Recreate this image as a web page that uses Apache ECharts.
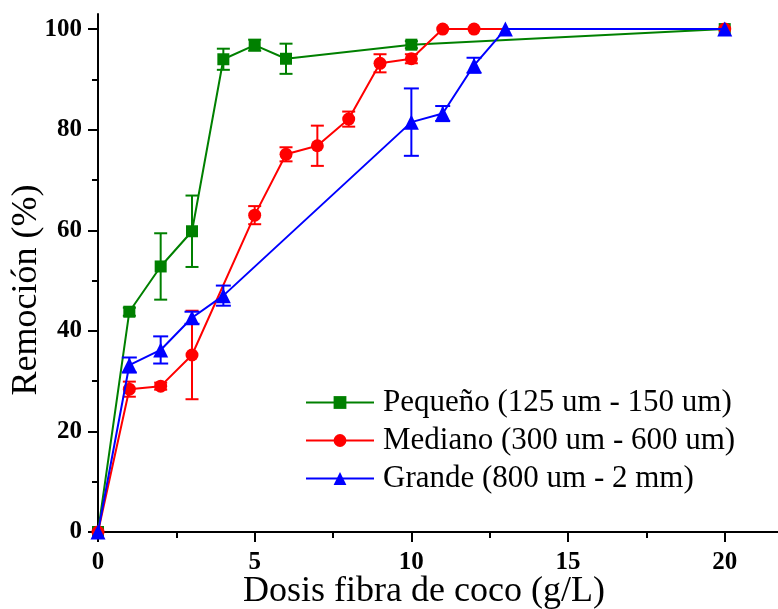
<!DOCTYPE html>
<html>
<head>
<meta charset="utf-8">
<title>Remoción vs dosis de fibra de coco</title>
<script src="https://cdn.jsdelivr.net/npm/echarts@6/dist/echarts.min.js"></script>
<style>
  html, body { margin: 0; padding: 0; background: #ffffff; }
  #chart { width: 778px; height: 609px; }
</style>
</head>
<body>
<div id="chart"></div>
<script>
// Dose (g/L), removal (%) and standard deviation for each particle size
const doseSmall = [0, 1, 2, 3, 4, 5, 6, 10, 20];
const removalSmall = [0, 43.8, 52.8, 59.8, 94.0, 96.8, 94.1, 96.9, 100];
const errSmall = [0, 0.8, 6.6, 7.1, 2.1, 1.1, 3.0, 0.7, 0];

const doseMedium = [0, 1, 2, 3, 5, 6, 7, 8, 9, 10, 11, 12, 20];
const removalMedium = [0, 28.4, 29.0, 35.2, 63.0, 75.1, 76.8, 82.1, 93.2, 94.1, 100, 100, 100];
const errMedium = [0, 1.5, 0.7, 8.8, 1.8, 1.4, 4.0, 1.5, 1.8, 0.9, 0, 0, 0];

const doseLarge = [0, 1, 2, 3, 4, 10, 11, 12, 13, 20];
const removalLarge = [0, 33.2, 36.2, 42.6, 47.0, 81.5, 83.2, 92.8, 100, 100];
const errLarge = [0, 1.5, 2.7, 1.2, 2.0, 6.7, 1.5, 1.5, 0, 0];

const seriesNames = [
  'Pequeño (125 um - 150 um)',
  'Mediano (300 um - 600 um)',
  'Grande (800 um - 2 mm)'
];

const xMajorTicks = [0, 5, 10, 15, 20];
const xMinorTicks = [2.5, 7.5, 12.5, 17.5];
const yMajorTicks = [0, 20, 40, 60, 80, 100];
const yMinorTicks = [10, 30, 50, 70, 90];

const X_MAX = 21.7;
const Y_MAX = 103;
const SERIF = '"Liberation Serif", "Times New Roman", serif';

function zip3(xs, ys, es) {
  return xs.map((x, i) => [x, ys[i], es[i]]);
}

// Vertical error bar with caps, centred on each point
function errorBarItem(capHalf) {
  return function (params, api) {
    const x = api.value(0);
    const y = api.value(1);
    const e = api.value(2);
    if (!e) return null;
    const hi = api.coord([x, y + e]);
    const lo = api.coord([x, y - e]);
    const style = { stroke: api.visual('color'), lineWidth: 2 };
    return {
      type: 'group',
      children: [
        { type: 'line', shape: { x1: hi[0], y1: hi[1], x2: lo[0], y2: lo[1] }, style: style },
        { type: 'line', shape: { x1: hi[0] - capHalf, y1: hi[1], x2: hi[0] + capHalf, y2: hi[1] }, style: style },
        { type: 'line', shape: { x1: lo[0] - capHalf, y1: lo[1], x2: lo[0] + capHalf, y2: lo[1] }, style: style }
      ]
    };
  };
}

function lineSeries(name, xs, ys, color, symbol, size, z) {
  return {
    name: name,
    type: 'line',
    data: xs.map((x, i) => [x, ys[i]]),
    symbol: symbol,
    symbolSize: size,
    showAllSymbol: true,
    clip: false,
    z: z,
    itemStyle: { color: color },
    lineStyle: { color: color, width: 2 },
    emphasis: { disabled: true },
    animation: false
  };
}

function errSeries(id, xs, ys, es, color, capHalf, z) {
  return {
    id: id,
    type: 'custom',
    data: zip3(xs, ys, es),
    encode: { x: 0, y: 1 },
    renderItem: errorBarItem(capHalf),
    itemStyle: { color: color },
    z: z,
    silent: true,
    animation: false
  };
}

const axisLineStyle = { color: '#000000', width: 2 };
const tickLabelStyle = {
  fontFamily: SERIF,
  fontWeight: 'bold',
  fontSize: 25,
  color: '#000000'
};

const chart = echarts.init(document.getElementById('chart'), null, { renderer: 'canvas' });

chart.setOption({
  backgroundColor: '#ffffff',
  animation: false,
  grid: { left: 98, right: 0, top: 14, bottom: 77, containLabel: false },
  xAxis: [
    {
      type: 'value',
      position: 'bottom',
      min: 0,
      max: X_MAX,
      axisLine: { show: true, onZero: false, lineStyle: axisLineStyle },
      axisTick: { show: true, inside: false, length: 10, lineStyle: axisLineStyle, customValues: xMajorTicks },
      axisLabel: Object.assign({ margin: 18, customValues: xMajorTicks }, tickLabelStyle),
      splitLine: { show: false }
    },
    {
      type: 'value',
      position: 'bottom',
      min: 0,
      max: X_MAX,
      axisLine: { show: false, onZero: false },
      axisTick: { show: true, inside: false, length: 6, lineStyle: axisLineStyle, customValues: xMinorTicks },
      axisLabel: { show: false },
      splitLine: { show: false }
    }
  ],
  yAxis: [
    {
      type: 'value',
      position: 'left',
      min: 0,
      max: Y_MAX,
      axisLine: { show: true, onZero: false, lineStyle: axisLineStyle },
      axisTick: { show: true, inside: false, length: 10, lineStyle: axisLineStyle, customValues: yMajorTicks },
      axisLabel: Object.assign({ margin: 16, customValues: yMajorTicks }, tickLabelStyle),
      splitLine: { show: false }
    },
    {
      type: 'value',
      position: 'left',
      min: 0,
      max: Y_MAX,
      axisLine: { show: false, onZero: false },
      axisTick: { show: true, inside: false, length: 6, lineStyle: axisLineStyle, customValues: yMinorTicks },
      axisLabel: { show: false },
      splitLine: { show: false }
    }
  ],
  legend: {
    data: seriesNames,
    orient: 'vertical',
    left: 305,
    top: 387,
    padding: 0,
    itemWidth: 68,
    itemHeight: 16,
    itemGap: 7,
    selectedMode: false,
    lineStyle: { width: 2 },
    textStyle: {
      fontFamily: SERIF,
      fontSize: 31,
      lineHeight: 31,
      color: '#000000',
      padding: [0, 0, 0, 4]
    }
  },
  graphic: [
    {
      type: 'text',
      x: 27,
      y: 290,
      rotation: Math.PI / 2,
      style: {
        text: 'Remoción (%)',
        font: '36px ' + SERIF,
        fill: '#000000',
        textAlign: 'center',
        textVerticalAlign: 'middle'
      }
    },
    {
      type: 'text',
      x: 424,
      y: 592,
      style: {
        text: 'Dosis fibra de coco (g/L)',
        font: '36px ' + SERIF,
        fill: '#000000',
        textAlign: 'center',
        textVerticalAlign: 'middle'
      }
    }
  ],
  series: [
    errSeries('errSmall', doseSmall, removalSmall, errSmall, '#008000', 6.5, 3),
    lineSeries(seriesNames[0], doseSmall, removalSmall, '#008000', 'rect', 12, 4),
    errSeries('errMedium', doseMedium, removalMedium, errMedium, '#ff0000', 6.5, 5),
    lineSeries(seriesNames[1], doseMedium, removalMedium, '#ff0000', 'circle', 13, 6),
    errSeries('errLarge', doseLarge, removalLarge, errLarge, '#0000ff', 7.5, 7),
    lineSeries(seriesNames[2], doseLarge, removalLarge, '#0000ff', 'triangle', 15, 8)
  ]
});
</script>
</body>
</html>
